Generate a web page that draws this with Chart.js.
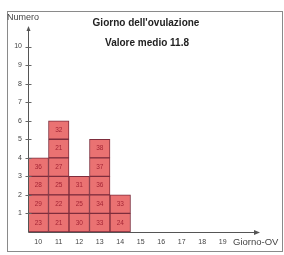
<!DOCTYPE html>
<html><head><meta charset="utf-8">
<script src="https://cdn.jsdelivr.net/npm/chart.js@4/dist/chart.umd.min.js"></script>
<style>html,body{margin:0;padding:0;background:#fff;}canvas{display:block;}</style>
</head><body>
<canvas id="c" width="284" height="255"></canvas>
<script>
const categories = ["10","11","12","13","14","15","16","17","18","19"];
const counts = [4, 6, 3, 5, 2, 0, 0, 0, 0, 0];
const cellLabels = [
  [23, 29, 28, 36],
  [21, 22, 25, 27, 21, 32],
  [30, 25, 31],
  [33, 34, 36, 37, 38],
  [24, 33],
  [], [], [], [], []
];
const yTicks = [1,2,3,4,5,6,7,8,9,10];
const titleText = "Giorno dell'ovulazione";
const subtitleText = "Valore medio 11.8";
const yAxisName = "Numero";
const xAxisName = "Giorno-OV";

const maxLevel = Math.max(...counts);
const datasets = [];
for (let lv = 1; lv <= maxLevel; lv++) {
  datasets.push({
    label: "L" + lv,
    data: counts.map(c => c >= lv ? 1 : null),
    backgroundColor: "#ea7272",
    borderColor: "#7e2d3c",
    borderWidth: 1,
    borderSkipped: false,
    barPercentage: 1,
    categoryPercentage: 1,
    stack: "s"
  });
}

const FONT = "'Liberation Sans', Arial, sans-serif";

const decor = {
  id: "decor",
  afterDatasetsDraw(chart) {
    const ctx = chart.ctx;
    ctx.save();
    ctx.fillStyle = "#a52535";
    ctx.font = "6.5px " + FONT;
    ctx.textAlign = "center";
    ctx.textBaseline = "middle";
    chart.data.datasets.forEach((ds, di) => {
      const meta = chart.getDatasetMeta(di);
      meta.data.forEach((el, i) => {
        if (ds.data[i] == null) return;
        const lbl = cellLabels[i][di];
        if (lbl == null) return;
        const p = el.getProps(["x","y","base"], true);
        ctx.fillText(String(lbl), p.x, (p.y + p.base) / 2);
      });
    });
    ctx.restore();
  },
  afterDraw(chart) {
    const ctx = chart.ctx;
    const ca = chart.chartArea;
    const ys = chart.scales.y;
    ctx.save();
    ctx.strokeStyle = "#8a8a8a";
    ctx.lineWidth = 1;
    ctx.strokeRect(7.5, 11.5, 275, 240);
    const y0 = Math.round(ys.getPixelForValue(0)) + 0.5;
    const x0 = Math.round(ca.left) + 0.5;
    ctx.strokeStyle = "#555";
    ctx.beginPath();
    ctx.moveTo(x0, y0); ctx.lineTo(258, y0);
    ctx.moveTo(x0, y0); ctx.lineTo(x0, ys.getPixelForValue(11));
    ctx.stroke();
    ctx.fillStyle = "#555";
    ctx.beginPath();
    ctx.moveTo(260, y0); ctx.lineTo(254, y0 - 2.5); ctx.lineTo(254, y0 + 2.5); ctx.closePath();
    ctx.fill();
    const yt = ys.getPixelForValue(11);
    ctx.beginPath();
    ctx.moveTo(x0, yt - 2); ctx.lineTo(x0 - 2, yt + 3); ctx.lineTo(x0 + 2, yt + 3); ctx.closePath();
    ctx.fill();
    ctx.strokeStyle = "#666";
    ctx.beginPath();
    yTicks.forEach(v => {
      const py = Math.round(ys.getPixelForValue(v)) + 0.5;
      ctx.moveTo(x0 - 3, py); ctx.lineTo(x0 + 3, py);
    });
    ctx.stroke();
    ctx.fillStyle = "#222";
    ctx.font = "bold 10px " + FONT;
    ctx.textAlign = "center";
    ctx.textBaseline = "middle";
    ctx.fillText(titleText, 146, 23);
    ctx.fillText(subtitleText, 147, 43);
    ctx.font = "9px " + FONT;
    ctx.fillStyle = "#444";
    ctx.textAlign = "left";
    ctx.fillText(yAxisName, 7, 18);
    ctx.font = "9.5px " + FONT;
    ctx.fillText(xAxisName, 233, 242);
    ctx.restore();
  }
};

new Chart(document.getElementById("c"), {
  type: "bar",
  data: { labels: categories, datasets },
  options: {
    responsive: false,
    animation: false,
    events: [],
    layout: { padding: { top: 28, right: 51, left: 0, bottom: 0 } },
    plugins: { legend: { display: false }, tooltip: { enabled: false }, title: { display: false } },
    scales: {
      x: {
        stacked: true,
        offset: true,
        grid: { display: false, drawTicks: false },
        border: { display: false },
        ticks: { color: "#444", font: { size: 7, family: FONT }, padding: 6, maxRotation: 0, autoSkip: false },
        afterFit(s) { s.height = 23; }
      },
      y: {
        stacked: true,
        min: 0, max: 11,
        grid: { display: false, drawTicks: false },
        border: { display: false },
        ticks: {
          stepSize: 1, color: "#444", font: { size: 7, family: FONT }, padding: 6,
          callback: v => yTicks.includes(v) ? String(v) : ""
        },
        afterFit(s) { s.width = 28; }
      }
    }
  },
  plugins: [decor]
});
</script>
</body></html>
